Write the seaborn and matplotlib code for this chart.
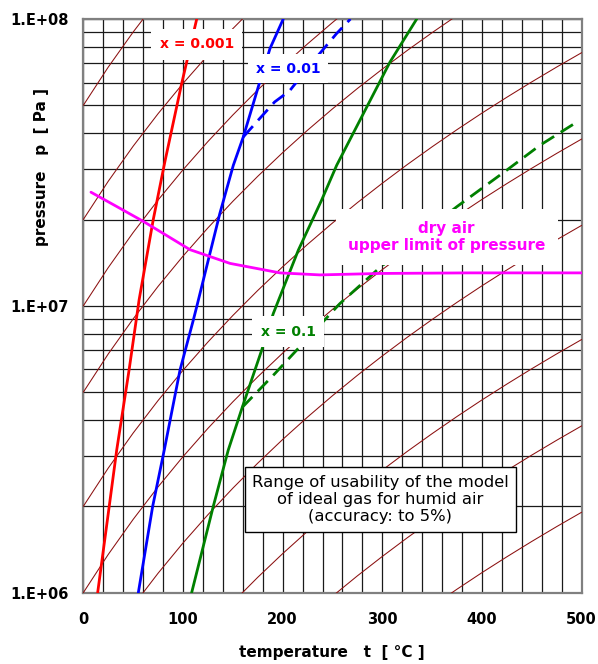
import matplotlib
matplotlib.use("Agg")
import matplotlib.pyplot as plt
from matplotlib.ticker import FixedLocator, LogLocator, MultipleLocator, NullFormatter
import numpy as np
import pandas as pd
import seaborn as sns

# ---- data -------------------------------------------------------------
# x = 0.001 (saturation limit, solid)
red_t = [14.4, 26.0, 33.5, 46.0, 56.0, 70.2, 82.0, 98.7, 113.8]
red_p = [1.0e6, 2.0e6, 3.14e6, 6.0e6, 1.05e7, 2.0e7, 3.2e7, 5.96e7, 1.0e8]

# x = 0.01
blue_t = [55.2, 69.6, 81.2, 97.0, 110.3, 114.0, 137.0, 150.5, 160.5, 177.0, 187.3, 200.6]
blue_p = [1.0e6, 2.0e6, 3.14e6, 5.97e6, 8.9e6, 1.0e7, 2.1e7, 3.09e7, 3.88e7, 6.03e7, 7.89e7, 1.0e8]
blue_dash_t = [160.5, 175.5, 192.0, 207.0, 230.0, 254.0, 268.0]
blue_dash_p = [3.88e7, 4.44e7, 5.14e7, 5.62e7, 7.08e7, 8.89e7, 1.0e8]

# x = 0.1
green_t = [108.7, 130.4, 145.4, 159.5, 179.0, 190.6, 215.7, 239.0, 254.2, 307.7, 334.5]
green_p = [1.0e6, 2.0e6, 3.14e6, 4.43e6, 7.01e6, 9.4e6, 1.563e7, 2.333e7, 3.09e7, 7.08e7, 1.0e8]
green_dash_t = [159.5, 192.3, 257.5, 297.6, 374.5, 424.8, 458.2, 493.0]
green_dash_p = [4.43e6, 5.81e6, 1.019e7, 1.361e7, 2.213e7, 2.972e7, 3.63e7, 4.325e7]

# dry air, upper limit of pressure
dry_t = [7.7, 33.5, 60.2, 80.0, 107.0, 147.2, 197.3, 237.4, 297.6, 388.0, 500.0]
dry_p = [2.49e7, 2.22e7, 1.97e7, 1.79e7, 1.57e7, 1.406e7, 1.303e7, 1.282e7, 1.297e7, 1.303e7, 1.303e7]

# isentropes: pressure ratio p/p0 along the temperature axis
isen_t = [0, 25, 50, 75, 100, 125, 150, 175, 200, 225, 250,
          275, 300, 325, 350, 375, 400, 425, 450, 475, 500]
isen_ratio = [1.0, 1.359, 1.801, 2.338, 2.980, 3.739, 4.627, 5.657, 6.841, 8.192, 9.723,
              11.45, 13.38, 15.54, 17.93, 20.58, 23.50, 26.69, 30.19, 34.01, 38.16]
isen_p0 = [5e4, 1e5, 2e5, 5e5, 1e6, 2e6, 5e6, 1e7, 2e7, 5e7]

x_ticks = [0, 100, 200, 300, 400, 500]
y_ticks = [1e6, 1e7, 1e8]
y_tick_labels = ["1.E+06", "1.E+07", "1.E+08"]

# ---- figure -----------------------------------------------------------
sns.set_style("white")
plt.rcParams["font.family"] = ["DejaVu Sans"]
plt.rcParams["text.color"] = "black"
plt.rcParams["axes.labelcolor"] = "black"
plt.rcParams["xtick.labelcolor"] = "black"
plt.rcParams["ytick.labelcolor"] = "black"

fig = plt.figure(figsize=(5.98, 6.64), dpi=100)
ax = fig.add_axes([0.1393, 0.10738, 0.8334, 0.8640])
ax.set_yscale("log")
ax.set_xlim(0, 500)
ax.set_ylim(1e6, 1e8)

# grid
ax.xaxis.set_major_locator(FixedLocator(x_ticks))
ax.xaxis.set_minor_locator(MultipleLocator(20))
ax.yaxis.set_major_locator(FixedLocator(y_ticks))
ax.yaxis.set_minor_locator(LogLocator(base=10, subs=range(2, 10)))
ax.yaxis.set_minor_formatter(NullFormatter())
ax.set_yticklabels(y_tick_labels)
ax.set_xticklabels([str(v) for v in x_ticks])
ax.grid(True, which="both", color="#1a1a1a", linewidth=0.9)
ax.set_axisbelow(True)

ax.tick_params(which="minor", length=0)
ax.tick_params(which="major", direction="out", length=4.2, width=1.2,
               color="#808080", labelsize=10.5, labelcolor="black")
ax.tick_params(axis="x", pad=10)
ax.tick_params(axis="y", pad=6)
for lab in ax.get_xticklabels() + ax.get_yticklabels():
    lab.set_fontweight("bold")

for s in ax.spines.values():
    s.set_visible(True)
    s.set_color("#808080")
    s.set_linewidth(1.6)

# isentropes
for p0 in isen_p0:
    df = pd.DataFrame({"t": isen_t, "p": [p0 * r for r in isen_ratio]})
    sns.lineplot(data=df, x="t", y="p", ax=ax, color="#8b1010", linewidth=0.75,
                 estimator=None, sort=False, zorder=3)

dash = (0, (5.2, 2.8))
curves = [
    (red_t, red_p, "#ff0000", "-"),
    (blue_dash_t, blue_dash_p, "#0000ff", dash),
    (blue_t, blue_p, "#0000ff", "-"),
    (green_dash_t, green_dash_p, "#008000", dash),
    (green_t, green_p, "#008000", "-"),
    (dry_t, dry_p, "#ff00ff", "-"),
]
for t, p, c, ls in curves:
    sns.lineplot(x=t, y=p, ax=ax, color=c, linewidth=2.0, linestyle=ls,
                 estimator=None, sort=False, zorder=4)

# labels
box = dict(boxstyle="square,pad=0.6", facecolor="white", edgecolor="none")
ax.text(114, 8.17e7, "x = 0.001", color="#ff0000", fontsize=10, fontweight="bold",
        ha="center", va="center", bbox=box, zorder=6)
ax.text(205.4, 6.71e7, "x = 0.01", color="#0000ff", fontsize=10, fontweight="bold",
        ha="center", va="center", bbox=dict(boxstyle="square,pad=0.55", facecolor="white",
                                            edgecolor="none"), zorder=6)
ax.text(205.7, 8.13e6, "x = 0.1", color="#008000", fontsize=10, fontweight="bold",
        ha="center", va="center", bbox=box, zorder=6)
ax.text(364.6, 1.742e7, "dry air\nupper limit of pressure", color="#ff00ff",
        fontsize=11, fontweight="bold", ha="center", va="center", linespacing=1.15,
        bbox=dict(boxstyle="square,pad=0.8", facecolor="white", edgecolor="none"), zorder=6)
ax.text(298.0, 2.112e6, "Range of usability of the model\nof ideal gas for humid air\n(accuracy: to 5%)",
        color="black", fontsize=11.8, ha="center", va="center", linespacing=1.2,
        bbox=dict(boxstyle="square,pad=0.45", facecolor="white", edgecolor="black",
                  linewidth=1.0), zorder=6)

ax.set_xlabel("temperature   t  [ °C ]", fontsize=11, fontweight="bold", color="black")
ax.set_ylabel("pressure   p  [ Pa ]", fontsize=11, fontweight="bold", color="black")
ax.xaxis.label.set_va("center")
ax.yaxis.label.set_va("center")
ax.xaxis.set_label_coords(0.499, -0.105)
ax.yaxis.set_label_coords(-0.0835, 0.742)

fig.savefig("out.png", dpi=100)
